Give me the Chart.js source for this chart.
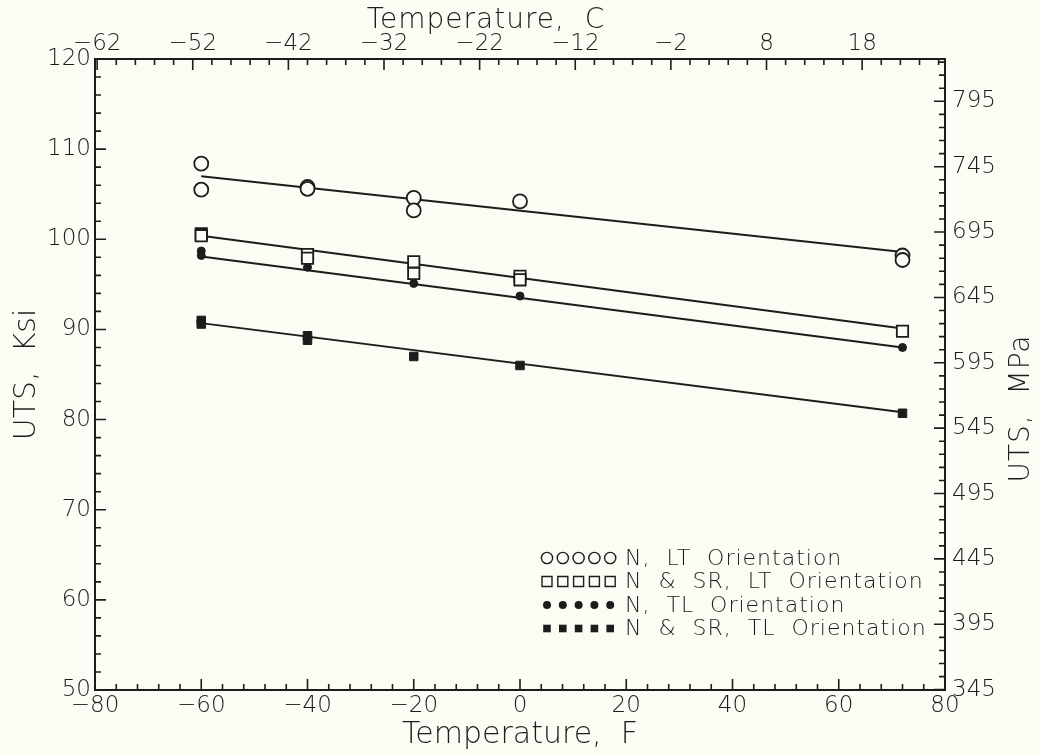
<!DOCTYPE html>
<html>
<head>
<meta charset="utf-8">
<script src="https://cdn.jsdelivr.net/npm/chart.js@4.4.1/dist/chart.umd.min.js"></script>
<style>
  html, body { margin: 0; padding: 0; background: #fcfcf5; }
  canvas { display: block; }
</style>
</head>
<body>
<canvas id="utsChart" width="1039" height="755"></canvas>
<script>
// tick labels: F bottom, C top, ksi left, MPa right
const fTicks = [-80, -60, -40, -20, 0, 20, 40, 60, 80];
const cTicks = [-62, -52, -42, -32, -22, -12, -2, 8, 18];
const ksiTicks = [50, 60, 70, 80, 90, 100, 110, 120];
const mpaTicks = [345, 395, 445, 495, 545, 595, 645, 695, 745, 795];

// N, LT orientation (open circles)
const ltTemp = [-60, -60, -40, -40, -20, -20, 0, 72, 72];
const ltUts = [108.4, 105.5, 105.8, 105.6, 104.6, 103.2, 104.2, 98.2, 97.7];
// N & SR, LT orientation (open squares)
const ltSrTemp = [-60, -60, -40, -40, -20, -20, 0, 0, 72];
const ltSrUts = [100.6, 100.4, 98.3, 97.9, 97.5, 96.2, 95.9, 95.5, 89.8];
// N, TL orientation (filled circles)
const tlTemp = [-60, -60, -40, -20, 0, 72];
const tlUts = [98.7, 98.2, 96.9, 95.1, 93.7, 88.0];
// N & SR, TL orientation (filled squares)
const tlSrTemp = [-60, -60, -40, -40, -20, 0, 72];
const tlSrUts = [91.0, 90.6, 89.3, 88.8, 87.0, 86.0, 80.7];

// fitted lines (end points)
const fitTemp = [-60, 72];
const ltFit = [107.0, 98.6];
const ltSrFit = [100.4, 90.1];
const tlFit = [98.1, 88.0];
const tlSrFit = [90.7, 80.8];

const legendLabels = [
  "N,  LT  Orientation",
  "N  &  SR,  LT  Orientation",
  "N,  TL  Orientation",
  "N  &  SR,  TL  Orientation"
];

const INK = "#1c1c1c";
const PAPER = "#fcfcf5";
const FONT = "'DejaVu Sans', sans-serif";

const fToC = (f) => (f - 32) * 5 / 9;
const ksiToMpa = (k) => k * 6.894757;
const minus = (v) => String(v).replace("-", "\u2212");

function pts(xs, ys) {
  return xs.map((x, i) => ({ x: x, y: ys[i] }));
}

function markerSet(label, xs, ys, style, radius, filled) {
  return {
    label: label,
    data: pts(xs, ys),
    pointStyle: style,
    pointRadius: radius,
    pointBackgroundColor: filled ? INK : PAPER,
    pointBorderColor: INK,
    pointBorderWidth: filled ? 1 : 1.8,
    showLine: false,
    order: 0
  };
}

function fitSet(ys) {
  return {
    label: "fit",
    data: pts(fitTemp, ys),
    showLine: true,
    borderColor: INK,
    borderWidth: 2,
    pointRadius: 0,
    order: 5
  };
}

// paper colour behind everything
const paperPlugin = {
  id: "paper",
  beforeDraw(chart) {
    const ctx = chart.ctx;
    ctx.save();
    ctx.fillStyle = PAPER;
    ctx.fillRect(0, 0, chart.width, chart.height);
    ctx.restore();
  }
};

// inward tick marks, major and minor, on all four sides
const ticksPlugin = {
  id: "inTicks",
  afterDraw(chart) {
    const ctx = chart.ctx;
    const a = chart.chartArea;
    const s = chart.scales;
    ctx.save();
    ctx.strokeStyle = INK;
    ctx.lineWidth = 1.6;
    ctx.beginPath();
    for (let v = -80; v <= 80; v += 4) {
      const px = s.x.getPixelForValue(v);
      const len = v % 20 === 0 ? 11 : 6;
      ctx.moveTo(px, a.bottom);
      ctx.lineTo(px, a.bottom - len);
    }
    for (let v = -62; v <= 26; v += 2) {
      const px = s.x2.getPixelForValue(v);
      const len = (v + 62) % 10 === 0 ? 11 : 6;
      ctx.moveTo(px, a.top);
      ctx.lineTo(px, a.top + len);
    }
    for (let v = 50; v <= 120; v += 2) {
      const py = s.y.getPixelForValue(v);
      const len = v % 10 === 0 ? 11 : 6;
      ctx.moveTo(a.left, py);
      ctx.lineTo(a.left + len, py);
    }
    for (let v = 345; v <= 825; v += 10) {
      const py = s.y2.getPixelForValue(v);
      const len = (v - 345) % 50 === 0 ? 11 : 6;
      ctx.moveTo(a.right, py);
      ctx.lineTo(a.right - len, py);
    }
    ctx.stroke();
    ctx.restore();
  }
};

// top and right titles (right one reads upward, like the left)
const titlesPlugin = {
  id: "sideTitles",
  afterDraw(chart) {
    const ctx = chart.ctx;
    const a = chart.chartArea;
    ctx.save();
    ctx.fillStyle = INK;
    ctx.font = "200 28px " + FONT;
    ctx.letterSpacing = "1px";
    ctx.textAlign = "center";
    ctx.textBaseline = "middle";
    ctx.fillText("Temperature,  C", a.left + 391, 21);
    ctx.translate(a.right + 77, chart.scales.y2.getPixelForValue(560));
    ctx.rotate(-Math.PI / 2);
    ctx.fillText("UTS,  MPa", 0, 0);
    ctx.restore();
  }
};

// legend: five markers per row, then the label
const legendPlugin = {
  id: "rowLegend",
  afterDatasetsDraw(chart) {
    const ctx = chart.ctx;
    const a = chart.chartArea;
    const x0 = a.left + 452;
    const y0 = a.bottom - 132;
    ctx.save();
    ctx.font = "200 22px " + FONT;
    ctx.letterSpacing = "1px";
    ctx.textBaseline = "middle";
    ctx.textAlign = "left";
    ctx.strokeStyle = INK;
    legendLabels.forEach((label, row) => {
      const y = y0 + row * 23.5;
      for (let k = 0; k < 5; k++) {
        const x = x0 + k * 15.8;
        ctx.beginPath();
        if (row === 0) {
          ctx.arc(x, y, 5.6, 0, Math.PI * 2);
          ctx.fillStyle = PAPER; ctx.fill();
          ctx.lineWidth = 1.4; ctx.stroke();
        } else if (row === 1) {
          ctx.rect(x - 5, y - 5, 10, 10);
          ctx.fillStyle = PAPER; ctx.fill();
          ctx.lineWidth = 1.4; ctx.stroke();
        } else if (row === 2) {
          ctx.arc(x, y, 4, 0, Math.PI * 2);
          ctx.fillStyle = INK; ctx.fill();
        } else {
          ctx.rect(x - 3.8, y - 3.8, 7.6, 7.6);
          ctx.fillStyle = INK; ctx.fill();
        }
      }
      ctx.fillStyle = INK;
      ctx.fillText(label, x0 + 78, y + 1);
    });
    ctx.restore();
  }
};

const tickFont = { family: FONT, size: 23, weight: "200" };
const titleFont = { family: FONT, size: 30, weight: "200" };

function fixedTicks(values) {
  return (axis) => { axis.ticks = values.map((v) => ({ value: v })); };
}

new Chart(document.getElementById("utsChart"), {
  type: "scatter",
  data: {
    datasets: [
      markerSet(legendLabels[0], ltTemp, ltUts, "circle", 7, false),
      markerSet(legendLabels[1], ltSrTemp, ltSrUts, "rect", 8, false),
      markerSet(legendLabels[2], tlTemp, tlUts, "circle", 4, true),
      markerSet(legendLabels[3], tlSrTemp, tlSrUts, "rect", 6, true),
      fitSet(ltFit),
      fitSet(ltSrFit),
      fitSet(tlFit),
      fitSet(tlSrFit)
    ]
  },
  options: {
    responsive: false,
    animation: false,
    layout: { padding: 0 },
    plugins: {
      legend: { display: false },
      tooltip: { enabled: false }
    },
    scales: {
      x: {
        type: "linear",
        position: "bottom",
        min: -80,
        max: 80,
        afterBuildTicks: fixedTicks(fTicks),
        afterFit: (s) => { s.height = 65; },
        grid: { display: false, drawTicks: false },
        border: { display: true, color: INK, width: 2 },
        ticks: {
          padding: 2, color: INK, font: tickFont, autoSkip: false, maxRotation: 0,
          callback: (v) => minus(v)
        },
        title: {
          display: true, text: "Temperature,  F", color: INK,
          font: titleFont,
          padding: { top: 0, bottom: 2 }
        }
      },
      x2: {
        type: "linear",
        position: "top",
        min: fToC(-80),
        max: fToC(80),
        afterBuildTicks: fixedTicks(cTicks),
        afterFit: (s) => { s.height = 59; },
        grid: { display: false, drawTicks: false },
        border: { display: true, color: INK, width: 2 },
        ticks: {
          padding: 1, color: INK, font: tickFont, autoSkip: false, maxRotation: 0,
          callback: (v) => minus(v)
        }
      },
      y: {
        type: "linear",
        position: "left",
        min: 50,
        max: 120,
        afterBuildTicks: fixedTicks(ksiTicks),
        afterFit: (s) => { s.width = 95; },
        grid: { display: false, drawTicks: false },
        border: { display: true, color: INK, width: 2 },
        ticks: { padding: 4, color: INK, font: tickFont, autoSkip: false },
        title: {
          display: true, text: "UTS,  Ksi", color: INK,
          font: titleFont,
          padding: { top: 9, bottom: 0 }
        }
      },
      y2: {
        type: "linear",
        position: "right",
        min: ksiToMpa(50),
        max: ksiToMpa(120),
        afterBuildTicks: fixedTicks(mpaTicks),
        afterFit: (s) => { s.width = 94; },
        grid: { display: false, drawTicks: false },
        border: { display: true, color: INK, width: 2 },
        ticks: { padding: 7, color: INK, font: tickFont, autoSkip: false }
      }
    }
  },
  plugins: [paperPlugin, ticksPlugin, titlesPlugin, legendPlugin]
});
</script>
</body>
</html>
